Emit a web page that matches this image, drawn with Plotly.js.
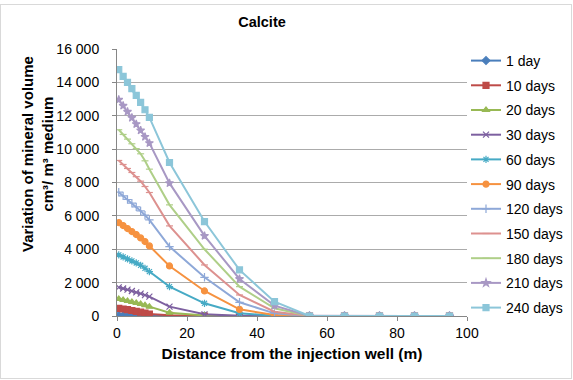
<!DOCTYPE html>
<html>
<head>
<meta charset="utf-8">
<script src="https://cdn.plot.ly/plotly-3.0.1.min.js"></script>
<style>
  html, body { margin: 0; padding: 0; background: #fff; }
  #wrap { position: relative; width: 573px; height: 380px; }
  #chart { width: 573px; height: 380px; }
  #frame { position: absolute; left: 0px; top: 4px; width: 570px; height: 373px; border: 1px solid #D9D9D9; pointer-events: none; }
</style>
</head>
<body>
<div id="wrap"><div id="chart"></div><div id="frame"></div></div>
<script>
const distance = [0.5, 1.75, 3, 4.25, 5.5, 6.75, 8, 9.25, 15, 25, 35, 45, 55, 65, 75, 85, 95];

const seriesNames = ["1 day", "10 days", "20 days", "30 days", "60 days", "90 days", "120 days", "150 days", "180 days", "210 days", "240 days"];

const day1   = [30, 20, 10, 10, 5, 5, 0, 0, 0, 0, 0, 0, 0, 0, 0, 0, 0];
const day10  = [460, 420, 380, 330, 280, 230, 180, 120, 40, 0, 0, 0, 0, 0, 0, 0, 0];
const day20  = [1020, 960, 900, 840, 780, 720, 650, 560, 200, 30, 0, 0, 0, 0, 0, 0, 0];
const day30  = [1720, 1650, 1580, 1500, 1420, 1340, 1250, 1160, 560, 100, 10, 0, 0, 0, 0, 0, 0];
const day60  = [3660, 3540, 3420, 3300, 3180, 3040, 2860, 2660, 1760, 760, 160, 20, 0, 0, 0, 0, 0];
const day90  = [5600, 5420, 5240, 5060, 4880, 4680, 4460, 4200, 3000, 1500, 400, 60, 0, 0, 0, 0, 0];
const day120 = [7420, 7200, 6980, 6760, 6540, 6300, 6040, 5760, 4160, 2320, 820, 160, 0, 0, 0, 0, 0];
const day150 = [9320, 9080, 8840, 8600, 8350, 8080, 7760, 7400, 5400, 3060, 1260, 260, 0, 0, 0, 0, 0];
const day180 = [11160, 10880, 10600, 10320, 10030, 9720, 9300, 8800, 6660, 4000, 1760, 460, 0, 0, 0, 0, 0];
const day210 = [12960, 12600, 12240, 11880, 11500, 11120, 10740, 10360, 7960, 4800, 2220, 620, 0, 0, 0, 0, 0];
const day240 = [14760, 14360, 14000, 13620, 13220, 12800, 12360, 11900, 9200, 5660, 2760, 860, 0, 0, 0, 0, 0];

const allSeries = [day1, day10, day20, day30, day60, day90, day120, day150, day180, day210, day240];

const colors = ["#4A7EBB", "#BE4B48", "#98B954", "#7D60A0", "#46AAC5", "#F69240", "#8EA8D8", "#DD918F", "#AFCF88", "#A898C4", "#8CC6D9"];
const symbols = ["diamond", "square", "triangle-up", "x-thin-open", "asterisk-open", "circle", "cross-thin-open", "line-ew-open", "line-ew-open", "star", "square"];
const sizes = [6, 6, 6, 6, 6, 6, 6, 5, 5, 6, 6];

const traces = allSeries.map((ys, i) => ({
  type: "scatter",
  mode: "lines+markers",
  name: seriesNames[i],
  legendgroup: "g" + i,
  x: distance,
  y: ys,
  line: { color: colors[i], width: 2 },
  marker: { symbol: symbols[i], size: sizes[i], color: colors[i], line: { color: colors[i], width: 1.2 } }
}));

const layout = {
  width: 573,
  height: 380,
  margin: { l: 117, r: 106, t: 49, b: 64, autoexpand: false },
  paper_bgcolor: "#ffffff",
  plot_bgcolor: "#ffffff",
  separators: ". ",
  font: { family: "Liberation Sans, Arial, sans-serif", size: 14, color: "#000" },
  title: { text: "<b>Calcite</b>", x: 262 / 573, xref: "container", xanchor: "center", y: 1 - 22 / 380, yref: "container", yanchor: "middle", font: { size: 14.5, color: "#000" } },
  xaxis: {
    range: [0, 100],
    tickvals: [0, 20, 40, 60, 80, 100],
    showgrid: false,
    zeroline: false,
    showline: true,
    linecolor: "#868686",
    linewidth: 1,
    ticks: "outside",
    ticklen: 4,
    tickcolor: "#868686",
    tickfont: { size: 14, color: "#000" },
    title: { text: "<b>Distance from the injection well (m)</b>", font: { size: 15.5, color: "#000" }, standoff: 8 }
  },
  yaxis: {
    range: [0, 16000],
    tickvals: [0, 2000, 4000, 6000, 8000, 10000, 12000, 14000, 16000],
    tickformat: ",d",
    showgrid: true,
    gridcolor: "#ABABAB",
    gridwidth: 1,
    zeroline: false,
    showline: true,
    linecolor: "#868686",
    ticks: "outside",
    ticklen: 4,
    tickcolor: "#868686",
    ticklabelstandoff: 10,
    tickfont: { size: 14, color: "#000" }
  },
  annotations: [{
    text: "<b>Variation of mineral volume</b><br><b>cm³/ m³ medium</b>",
    xref: "paper", yref: "paper",
    x: (37 - 117) / 350, y: (316 - 154) / 267,
    xanchor: "center", yanchor: "middle",
    textangle: -90,
    showarrow: false,
    font: { size: 15, color: "#000" }
  }],
  legend: {
    x: (466 - 117) / 350, xanchor: "left",
    y: 1.015, yanchor: "top",
    font: { size: 14, color: "#000" },
    itemwidth: 30,
    tracegroupgap: 3.5,
    maxheight: 1000,
    bgcolor: "rgba(0,0,0,0)"
  },
  showlegend: true
};

Plotly.newPlot("chart", traces, layout, { displayModeBar: false, staticPlot: true });
</script>
</body>
</html>
